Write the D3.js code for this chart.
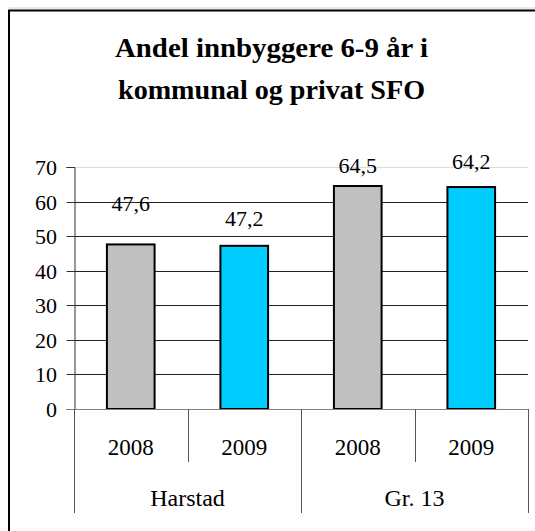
<!DOCTYPE html>
<html><head><meta charset="utf-8"><script src="https://cdn.jsdelivr.net/npm/d3@7/dist/d3.min.js"></script></head>
<body style="margin:0">
<svg id="s" width="535" height="531" style="display:block"></svg>
<script>
// Share of children aged 6-9 in municipal and private after-school care (SFO)
const titleLines = ["Andel innbyggere 6-9 år i", "kommunal og privat SFO"];
const groups = ["Harstad", "Gr. 13"];
const years = ["2008", "2009"];
const values = [47.6, 47.2, 64.5, 64.2];   // Harstad 2008, Harstad 2009, Gr. 13 2008, Gr. 13 2009
const valueLabels = ["47,6", "47,2", "64,5", "64,2"];
const yTicks = [0, 10, 20, 30, 40, 50, 60, 70];
const barColors = ["#c0c0c0", "#00ccff"];
const labelLift = [33, 20, 13, 18];        // label baseline distance above each bar

const FONT = "Times New Roman";
const svg = d3.select("#s");
const W = 535, H = 531;
const plot = { left: 74, right: 528, top: 167, bottom: 409 };

// frame
svg.append("line").attr("x1", 9).attr("x2", W).attr("y1", 8).attr("y2", 8)
  .attr("stroke", "#d0d0d0").attr("stroke-width", 1);
svg.append("path").attr("d", `M9,${H} V10.5 H${W}`)
  .attr("fill", "none").attr("stroke", "#000").attr("stroke-width", 2);

// scales
const rows = [];
groups.forEach(g => years.forEach(y => rows.push({ group: g, year: y })));
rows.forEach((r, i) => { r.key = r.group + "|" + r.year; r.value = values[i]; r.label = valueLabels[i]; r.color = barColors[i % 2]; r.lift = labelLift[i]; });

const x = d3.scaleBand().domain(rows.map(r => r.key)).range([plot.left, plot.right]).padding(0);
const xg = d3.scaleBand().domain(groups).range([plot.left, plot.right]).padding(0);
const y = d3.scaleLinear().domain([0, 70]).range([plot.bottom, plot.top]);

// gridlines
svg.append("g").selectAll("line").data(yTicks.filter(t => t > 0)).join("line")
  .attr("x1", plot.left).attr("x2", plot.right)
  .attr("y1", d => Math.round(y(d)) + 0.5).attr("y2", d => Math.round(y(d)) + 0.5)
  .attr("stroke", d => d === 70 ? "#dcdcdc" : "#222").attr("stroke-width", 1);

// y axis line and ticks (labels are drawn separately below)
const yAxis = d3.axisLeft(y).tickValues(yTicks).tickSize(8).tickFormat("");
const gy = svg.append("g").attr("transform", `translate(${plot.left + 0.5},0)`).call(yAxis);
gy.select(".domain").attr("stroke", "#333");
gy.selectAll(".tick line").attr("stroke", "#333");
gy.selectAll(".tick").attr("transform", d => `translate(0,${Math.round(y(d)) + 0.5})`);

// bars
const bw = x.bandwidth() * 0.42;
svg.append("g").selectAll("rect").data(rows).join("rect")
  .attr("x", d => x(d.key) + (x.bandwidth() - bw) / 2)
  .attr("y", d => y(d.value))
  .attr("width", bw)
  .attr("height", d => y(0) - y(d.value))
  .attr("fill", d => d.color)
  .attr("stroke", "#000").attr("stroke-width", 2);

// category axis baseline
svg.append("line").attr("x1", plot.left - 8).attr("x2", plot.right)
  .attr("y1", plot.bottom + 0.5).attr("y2", plot.bottom + 0.5)
  .attr("stroke", "#808080").attr("stroke-width", 1);

// dividers between years inside a group
svg.append("g").selectAll("line").data(rows.filter(r => r.year !== years[0])).join("line")
  .attr("x1", d => Math.round(x(d.key)) + 0.5).attr("x2", d => Math.round(x(d.key)) + 0.5)
  .attr("y1", plot.bottom).attr("y2", 462)
  .attr("stroke", "#555");

// dividers around groups
const groupEdges = groups.map(g => xg(g)).concat([plot.right]);
svg.append("g").selectAll("line").data(groupEdges).join("line")
  .attr("x1", d => Math.round(d) + 0.5).attr("x2", d => Math.round(d) + 0.5)
  .attr("y1", plot.bottom).attr("y2", 513)
  .attr("stroke", "#555");

// all text goes straight onto the svg
const titleWidths = [313, 307];
svg.selectAll("text.title").data(titleLines).join("text")
  .attr("class", "title")
  .attr("x", 271.5)
  .attr("y", (d, i) => 57 + i * 42)
  .attr("text-anchor", "middle")
  .style("font-family", FONT)
  .attr("font-size", 28)
  .attr("font-weight", "bold")
  .attr("textLength", (d, i) => titleWidths[i])
  .attr("lengthAdjust", "spacingAndGlyphs")
  .text(d => d);

svg.selectAll("text.ytick").data(yTicks).join("text")
  .attr("class", "ytick")
  .attr("x", plot.left - 17)
  .attr("y", d => Math.round(y(d)) + 8)
  .attr("text-anchor", "end")
  .style("font-family", FONT)
  .attr("font-size", 22)
  .text(d => d);

svg.selectAll("text.value").data(rows).join("text")
  .attr("class", "value")
  .attr("x", d => x(d.key) + x.bandwidth() / 2)
  .attr("y", d => y(d.value) - d.lift)
  .attr("text-anchor", "middle")
  .style("font-family", FONT)
  .attr("font-size", 22)
  .text(d => d.label);

svg.selectAll("text.year").data(rows).join("text")
  .attr("class", "year")
  .attr("x", d => x(d.key) + x.bandwidth() / 2)
  .attr("y", 455)
  .attr("text-anchor", "middle")
  .style("font-family", FONT)
  .attr("font-size", 23)
  .text(d => d.year);

svg.selectAll("text.group").data(groups).join("text")
  .attr("class", "group")
  .attr("x", d => xg(d) + xg.bandwidth() / 2)
  .attr("y", 506)
  .attr("text-anchor", "middle")
  .style("font-family", FONT)
  .attr("font-size", 24)
  .text(d => d);
</script></body></html>
